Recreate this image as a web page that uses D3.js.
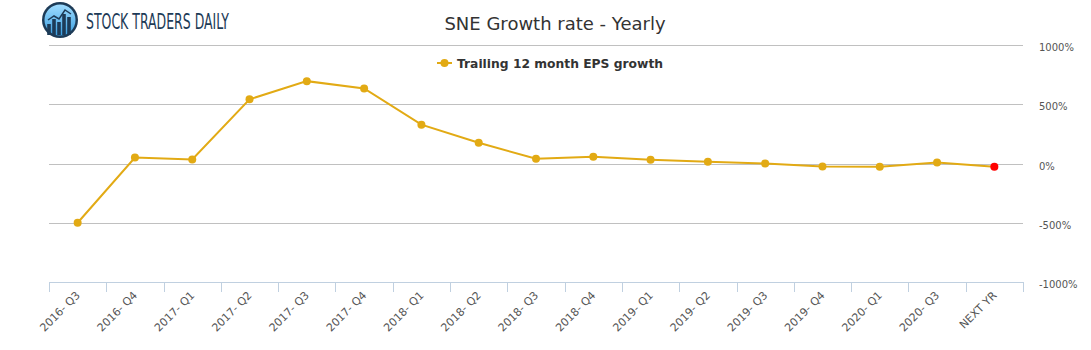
<!DOCTYPE html>
<html>
<head>
<meta charset="utf-8">
<script src="https://cdn.jsdelivr.net/npm/d3@7"></script>
<style>
  body { margin: 0; background: #fff; }
  svg { font-family: "DejaVu Sans", sans-serif; }
</style>
</head>
<body>
<div class="chart"></div>
<script>
const categories = ['2016- Q3', '2016- Q4', '2017- Q1', '2017- Q2', '2017- Q3', '2017- Q4',
  '2018- Q1', '2018- Q2', '2018- Q3', '2018- Q4', '2019- Q1', '2019- Q2', '2019- Q3',
  '2019- Q4', '2020- Q1', '2020- Q3', 'NEXT YR'];
const epsGrowth = [-500, 50, 34, 542, 695, 633, 328, 175, 40, 57, 31, 14, 0, -25, -27, 9, -28];
const yTicks = [-1000, -500, 0, 500, 1000];

const width = 1091, height = 350;
const margin = {top: 45, right: 68, bottom: 68, left: 49};

const svg = d3.select('.chart')
  .append('svg')
    .attr('width', width)
    .attr('height', height);

const x = d3.scaleBand()
  .domain(categories)
  .range([margin.left, width - margin.right]);

const y = d3.scaleLinear()
  .domain([-1000, 1000])
  .range([height - margin.bottom, margin.top]);

// grid lines
svg.append('g')
  .selectAll('line')
  .data(yTicks.filter(d => d !== -1000))
  .join('line')
    .attr('x1', margin.left)
    .attr('x2', width - margin.right)
    .attr('y1', d => Math.round(y(d)) + 0.5)
    .attr('y2', d => Math.round(y(d)) + 0.5)
    .attr('stroke', '#c0c0c0');

// y labels on right
svg.append('g')
  .selectAll('text')
  .data(yTicks)
  .join('text')
    .attr('x', 1039)
    .attr('y', d => y(d) + 6)
    .attr('font-size', '10px')
    .attr('fill', '#555')
    .text(d => d + '%');

// x axis
const xAxis = g => g
  .attr('transform', `translate(0, ${Math.round(y(-1000)) + 0.5})`)
  .call(d3.axisBottom(x).tickSize(0).tickFormat(''))
  .call(g => g.select('.domain').attr('stroke', '#c0d0e0').attr('d', `M${margin.left},0H${width - margin.right}`));
svg.append('g').call(xAxis);

const edges = categories.map(c => x(c)).concat([x.range()[1]]);
svg.append('g')
  .selectAll('line')
  .data(edges)
  .join('line')
    .attr('x1', d => Math.round(d) + 0.5)
    .attr('x2', d => Math.round(d) + 0.5)
    .attr('y1', Math.round(y(-1000)))
    .attr('y2', Math.round(y(-1000)) + 10)
    .attr('stroke', '#c0d0e0');

svg.append('g')
  .selectAll('text')
  .data(categories)
  .join('text')
    .attr('transform', d => `translate(${x(d) + x.bandwidth() / 2 + 3}, ${y(-1000) + 14}) rotate(-45)`)
    .attr('text-anchor', 'end')
    .attr('font-size', '11px')
    .attr('fill', '#555')
    .text(d => d);

// line
const color = '#e2aa14';
const pts = categories.map((c, i) => ({c, v: epsGrowth[i]}));
svg.append('path')
  .datum(pts)
  .attr('fill', 'none')
  .attr('stroke', color)
  .attr('stroke-width', 2)
  .attr('d', d3.line().x(d => x(d.c) + x.bandwidth() / 2).y(d => y(d.v)));

svg.append('g')
  .selectAll('circle')
  .data(pts)
  .join('circle')
    .attr('cx', d => x(d.c) + x.bandwidth() / 2)
    .attr('cy', d => y(d.v))
    .attr('r', 4)
    .attr('fill', (d, i) => i === pts.length - 1 ? '#ff0000' : color);

// title
svg.append('text')
  .attr('x', 555)
  .attr('y', 30)
  .attr('text-anchor', 'middle')
  .attr('font-size', '18px')
  .attr('fill', '#333')
  .text('SNE Growth rate - Yearly');

// legend
const lg = svg.append('g').attr('transform', 'translate(437, 63)');
lg.append('line').attr('x1', 0).attr('x2', 15).attr('stroke', color).attr('stroke-width', 2);
lg.append('circle').attr('cx', 7.5).attr('r', 4).attr('fill', color);
lg.append('text')
  .attr('x', 20)
  .attr('y', 4.5)
  .attr('font-size', '12.3px')
  .attr('font-weight', 'bold')
  .attr('fill', '#333')
  .text('Trailing 12 month EPS growth');

// logo
const defs = svg.append('defs');
const grad = defs.append('linearGradient').attr('id', 'lg').attr('x1', 0).attr('y1', 0).attr('x2', 0).attr('y2', 1);
grad.append('stop').attr('offset', '0%').attr('stop-color', '#9fdcff');
grad.append('stop').attr('offset', '100%').attr('stop-color', '#3a9ee0');
const logo = svg.append('g').attr('transform', 'translate(60, 20)');
logo.append('circle').attr('r', 18).attr('fill', '#1d3b57');
logo.append('circle').attr('r', 15.5).attr('fill', 'url(#lg)');
const bars = [[-11, 4], [-6, -1], [-1, 2], [4, -6], [9, -3]];
logo.selectAll('rect.b').data(bars).join('rect')
  .attr('x', d => d[0] - 1.8).attr('y', d => d[1]).attr('width', 3.6)
  .attr('height', d => 15 - d[1]).attr('fill', '#1d3b57');
logo.append('path')
  .attr('d', 'M-12,0 L-6,-4 L-1,-1 L5,-10 L11,-6')
  .attr('fill', 'none').attr('stroke', '#1d3b57').attr('stroke-width', 1.5);
svg.append('text')
  .attr('x', 86)
  .attr('y', 28.5)
  .attr('font-size', '21px')
  .attr('font-stretch', 'condensed')
  .attr('font-family', '"DejaVu Sans Condensed", "DejaVu Sans", sans-serif')
  .attr('textLength', 143)
  .attr('lengthAdjust', 'spacingAndGlyphs')
  .attr('fill', '#1d3b57')
  .text('STOCK TRADERS DAILY');
</script>
</body>
</html>
